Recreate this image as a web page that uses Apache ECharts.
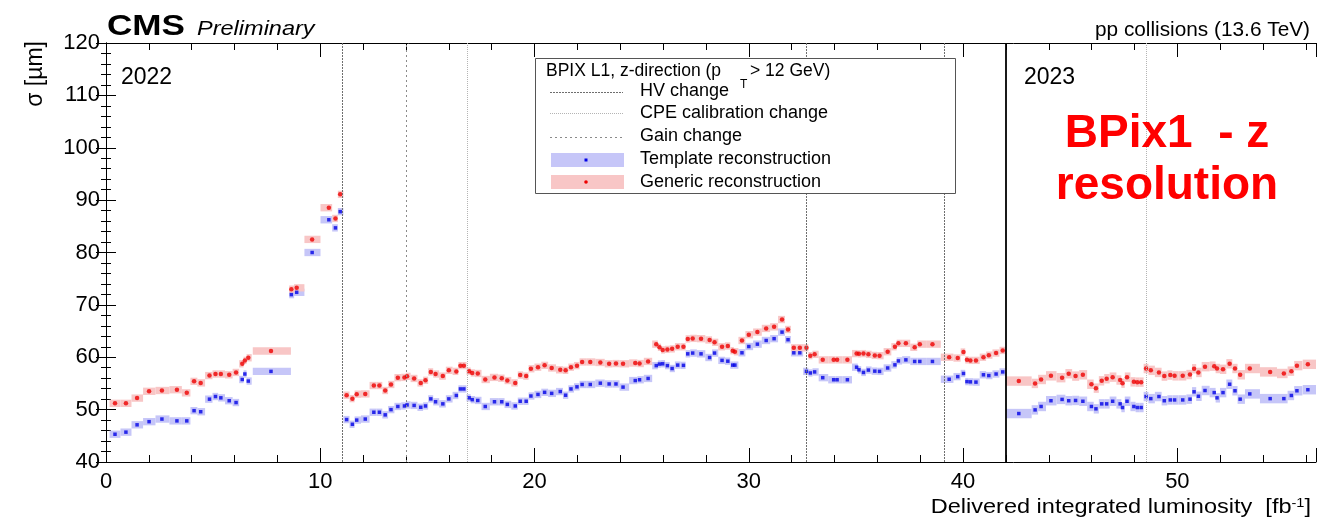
<!DOCTYPE html>
<html><head><meta charset="utf-8">
<script src="https://cdn.jsdelivr.net/npm/echarts@6/dist/echarts.min.js"></script>
<style>html,body{margin:0;padding:0;background:#fff}#c{width:1319px;height:519px}</style>
</head><body><div id="c"></div><script>
// ---- data ----
const lumi = [0.42,0.93,1.45,2.01,2.61,3.31,3.77,4.11,4.42,4.83,5.11,5.36,5.75,6.07,6.36,6.48,6.64,7.7,8.65,8.9,9.62,10.4,10.71,10.93,
11.23,11.5,11.7,12.1,12.5,12.76,13.03,13.3,13.62,13.93,14.05,14.38,14.69,14.91,15.16,15.38,15.72,16.0,16.35,16.54,16.7,16.95,17.09,17.35,17.7,18.13,18.47,18.73,19.1,19.33,19.61,19.83,20.16,20.47,20.8,21.2,21.45,21.7,21.98,
22.22,22.6,23.07,23.48,23.8,24.13,24.7,24.9,25.3,25.68,25.83,25.98,26.2,26.42,26.68,26.95,27.15,27.38,27.77,28.17,28.4,28.75,29.02,29.25,29.35,29.68,30.0,30.4,30.81,31.18,31.55,31.83,32.1,32.38,32.69,32.87,33.07,
33.45,33.96,34.12,34.6,35.03,35.14,35.35,35.58,35.88,36.1,36.48,36.82,36.98,37.33,37.74,37.98,38.57,39.35,39.75,40.02,40.18,40.34,40.6,40.95,41.2,41.54,41.85,
42.6,43.36,43.64,44.1,44.62,44.93,45.25,45.59,45.99,46.2,46.47,46.7,46.98,47.33,47.44,47.65,47.97,48.13,48.31,48.54,48.76,49.14,49.39,49.67,49.87,50.25,50.59,50.78,50.98,51.29,51.72,51.85,52.13,52.44,52.69,52.93,53.38,54.33,54.97,55.32,55.58,56.09];

const sigmaGeneric = [51.2,51.2,52.2,53.5,53.65,53.8,53.2,55.4,55.1,56.5,56.8,56.8,56.65,57.1,58.75,59.4,59.9,61.2,73.0,73.25,82.5,88.55,86.5,91.1,
52.76,52.1,52.95,53.0,54.6,54.6,53.65,54.8,56.1,56.15,56.35,55.95,55.1,55.6,57.2,56.8,56.4,57.5,57.3,58.4,58.4,57.35,57.0,56.9,55.75,56.15,56.0,55.55,55.1,56.6,56.4,57.8,58.1,58.45,57.95,57.6,57.5,58.1,58.4,
59.1,59.1,59.0,58.75,58.8,58.75,58.9,58.8,59.2,62.5,61.9,61.4,61.5,61.6,62.0,62.0,63.5,63.6,63.55,63.3,62.85,62.0,62.15,61.25,61.05,63.2,64.3,64.8,65.5,65.8,67.2,65.3,61.8,61.8,61.8,60.3,60.55,
59.5,59.5,59.5,59.5,60.7,60.65,60.7,60.55,60.35,60.3,61.05,62.0,62.65,62.65,61.9,62.5,62.5,60.0,59.85,61.0,59.5,59.4,59.4,60.0,60.4,60.8,61.3,
55.45,55.0,55.75,56.45,56.1,56.85,56.4,56.65,54.85,54.1,55.5,55.9,56.2,55.65,55.05,56.2,55.3,55.25,55.25,57.85,57.5,57.1,56.4,56.6,56.45,56.45,56.7,57.8,57.1,58.2,58.3,57.85,57.7,58.75,57.85,56.65,57.85,57.2,56.9,57.35,58.4,58.65];

const sigmaTemplate = [45.3,45.7,47.1,47.7,48.2,47.85,47.85,49.8,49.6,52.0,52.5,52.25,51.7,51.35,55.75,56.8,55.45,57.3,71.96,72.4,80.0,86.25,84.7,87.8,
48.1,47.2,48.0,48.2,49.5,49.5,49.0,50.0,50.6,50.7,50.9,50.8,50.45,50.7,52.05,51.5,51.1,52.05,52.7,53.95,53.95,52.25,51.9,51.75,50.6,51.5,51.5,51.0,50.7,51.6,51.6,52.6,52.9,53.3,53.1,53.45,52.75,53.95,54.35,
54.8,54.8,55.05,54.9,54.9,54.3,55.55,55.7,55.95,58.4,58.7,58.75,58.4,57.85,58.5,58.45,60.65,60.8,60.65,59.95,60.8,59.4,59.25,58.5,58.5,60.85,62.05,62.5,63.2,63.55,64.8,63.35,60.85,60.85,57.3,57.0,57.2,
56.1,55.7,55.7,55.7,58.1,57.6,57.1,57.55,57.35,57.3,57.95,58.55,59.3,59.5,59.2,59.2,59.2,55.8,56.3,56.9,55.35,55.3,55.25,56.65,56.5,56.8,57.2,
49.25,49.95,50.6,51.7,51.95,51.7,51.75,51.6,50.6,50.15,51.1,51.1,51.6,51.1,50.4,51.6,50.6,50.4,50.4,52.5,52.1,52.5,51.7,51.85,51.85,51.85,52.0,53.4,52.55,53.65,53.25,52.25,53.25,54.85,53.6,52.0,53.0,52.1,52.1,52.7,53.6,53.8];

// luminosity bins whose extent differs from the neighbour midpoints: [index, low, high]
const binEdgeOverrides = [[16,6.56,6.8],[17,6.85,8.63],[18,8.55,8.78],[126,41.7,42.0],[127,42.0,43.2],[128,43.2,43.5],[168,55.85,56.47]];
// uncertainty band half-heights (µm) per data-taking year
const bandHalf2022 = 0.7, bandHalf2023 = 0.9;
const yearBoundary = 42.0;
const hvChanges = [11.03, 32.68, 39.12];
const gainChanges = [14.02];
const cpeChanges = [16.85, 48.54];
const xTicks = {min: 0, max: 56.47, interval: 10};
const yTicks = {min: 40, max: 120, interval: 10};

// ---- build ----
const FONT = '"Liberation Sans", Arial, Helvetica, sans-serif';
const n = lumi.length;
const lo = [], hi = [];
for (let i = 0; i < n; i++) {
  lo.push(i === 0 ? lumi[0] - (lumi[1] - lumi[0]) / 2 : (lumi[i - 1] + lumi[i]) / 2);
  hi.push(i === n - 1 ? lumi[i] + (lumi[i] - lumi[i - 1]) / 2 : (lumi[i] + lumi[i + 1]) / 2);
}
binEdgeOverrides.forEach(([i, a, b]) => { lo[i] = a; hi[i] = b; });
const halfH = i => (lumi[i] < yearBoundary ? bandHalf2022 : bandHalf2023);
const bandData = arr => arr.map((v, i) => [lo[i], hi[i], v, halfH(i)]);
const pointData = arr => arr.map((v, i) => [lumi[i], v]);

function bandRenderer(color) {
  return function (params, api) {
    const p1 = api.coord([api.value(0), api.value(2) + api.value(3)]);
    const p2 = api.coord([api.value(1), api.value(2) - api.value(3)]);
    return {type: 'rect', shape: {x: p1[0], y: p1[1], width: p2[0] - p1[0], height: p2[1] - p1[1]},
            style: {fill: color}};
  };
}

const vline = (v, color, dash, width) => ({xAxis: v, lineStyle: {color: color, type: dash, width: width || 1}});
const markLines = []
  .concat(hvChanges.map(v => vline(v, '#6e6e6e', [2, 1])))
  .concat(gainChanges.map(v => vline(v, '#8a8a8a', [2, 3])))
  .concat(cpeChanges.map(v => vline(v, '#b4b4b4', [1, 1])))
  .concat([vline(yearBoundary, '#000', 'solid', 1.8)]);

const axisCommon = {
  type: 'value', splitLine: {show: false},
  axisLine: {lineStyle: {color: '#000', width: 1}},
  axisTick: {inside: true, lineStyle: {color: '#000'}},
  minorTick: {show: true, splitNumber: 5, lineStyle: {color: '#000'}},
};

const T = (x, y, text, font, extra) => Object.assign({type: 'text', x: x, y: y, z: 20,
  style: {text: text, font: font, fill: '#000', align: 'left', verticalAlign: 'middle', textAlign: 'left', textVerticalAlign: 'middle'}}, extra || {});

const option = {
  animation: false,
  backgroundColor: '#fff',
  grid: {left: 106, right: 3, top: 43, bottom: 57, containLabel: false},
  xAxis: [
    Object.assign({}, axisCommon, {min: xTicks.min, max: xTicks.max, interval: xTicks.interval, position: 'bottom',
      axisTick: {inside: true, length: 14, lineStyle: {color: '#000'}},
      minorTick: {show: true, splitNumber: 5, length: 7, lineStyle: {color: '#000'}},
      axisLabel: {color: '#000', fontFamily: FONT, fontSize: 22, margin: 9, showMaxLabel: false}}),
    Object.assign({}, axisCommon, {min: xTicks.min, max: xTicks.max, interval: xTicks.interval, position: 'top',
      axisTick: {inside: true, length: 14, lineStyle: {color: '#000'}},
      minorTick: {show: true, splitNumber: 5, length: 7, lineStyle: {color: '#000'}},
      axisLabel: {show: false}})
  ],
  yAxis: [
    Object.assign({}, axisCommon, {min: yTicks.min, max: yTicks.max, interval: yTicks.interval, position: 'left',
      axisTick: {inside: true, length: 10, lineStyle: {color: '#000'}},
      minorTick: {show: true, splitNumber: 5, length: 5, lineStyle: {color: '#000'}},
      axisLabel: {color: '#000', fontFamily: FONT, fontSize: 22, margin: 6}}),
    Object.assign({}, axisCommon, {min: yTicks.min, max: yTicks.max, interval: yTicks.interval, position: 'right',
      axisTick: {inside: true, length: 10, lineStyle: {color: '#000'}},
      minorTick: {show: true, splitNumber: 5, length: 5, lineStyle: {color: '#000'}},
      axisLabel: {show: false}})
  ],
  series: [
    {type: 'custom', name: 'Template band', renderItem: bandRenderer('#c6c6f8'), data: bandData(sigmaTemplate),
     encode: {x: [0, 1], y: 2}, clip: true, z: 1, silent: true,
     markLine: {silent: true, symbol: ['none', 'none'], label: {show: false}, data: markLines, animation: false}},
    {type: 'custom', name: 'Generic band', renderItem: bandRenderer('#f8c6c6'), data: bandData(sigmaGeneric),
     encode: {x: [0, 1], y: 2}, clip: true, z: 2, silent: true},
    {type: 'scatter', name: 'Template reconstruction', data: pointData(sigmaTemplate), symbol: 'rect', symbolSize: 3.5,
     itemStyle: {color: '#0000e6'}, z: 3, silent: true},
    {type: 'scatter', name: 'Generic reconstruction', data: pointData(sigmaGeneric), symbol: 'circle', symbolSize: 4.5,
     itemStyle: {color: '#ee0000'}, z: 4, silent: true}
  ],
  graphic: [
    T(107, 27, 'CMS', 'bold 30px ' + FONT, {scaleX: 1.17}),
    T(197, 29, 'Preliminary', 'italic 21px ' + FONT, {scaleX: 1.12}),
    {type: 'text', x: 1310, y: 30, scaleX: 1.04, z: 20,
     style: {text: 'pp collisions (13.6 TeV)', font: '20px ' + FONT, fill: '#000', align: 'right', verticalAlign: 'middle', textAlign: 'right', textVerticalAlign: 'middle'}},
    T(121, 78, '2022', '23px ' + FONT),
    T(1024, 78, '2023', '23px ' + FONT),
    {type: 'text', x: 1167, y: 134, z: 20,
     style: {text: 'BPix1  - z', font: 'bold 46px ' + FONT, fill: '#ff0000', align: 'center', verticalAlign: 'middle', textAlign: 'center', textVerticalAlign: 'middle'}},
    {type: 'text', x: 1167, y: 186, z: 20,
     style: {text: 'resolution', font: 'bold 46px ' + FONT, fill: '#ff0000', align: 'center', verticalAlign: 'middle', textAlign: 'center', textVerticalAlign: 'middle'}},
    {type: 'text', x: 36, y: 41, rotation: Math.PI / 2, z: 20,
     style: {text: 'σ [µm]', font: '23px ' + FONT, fill: '#000', align: 'right', verticalAlign: 'middle', textAlign: 'right', textVerticalAlign: 'middle'}},
    {type: 'text', x: 1311, y: 507, scaleX: 1.12, z: 20,
     style: {text: 'Delivered integrated luminosity  [fb{sup|-1}]', font: '21px ' + FONT, fill: '#000', align: 'right', verticalAlign: 'middle', textAlign: 'right', textVerticalAlign: 'middle',
       rich: {sup: {fontSize: 13, fontFamily: FONT, verticalAlign: 'top', fill: '#000'}}}},
    // legend box
    {type: 'rect', z: 30, shape: {x: 535.5, y: 58.5, width: 420, height: 135}, style: {fill: '#fff', stroke: '#555', lineWidth: 1}},
    T(546, 71, 'BPIX L1, z-direction (p', '17.5px ' + FONT, {z: 31}),
    T(740, 85, 'T', '12px ' + FONT, {z: 31}),
    T(750, 71, '> 12 GeV)', '17.5px ' + FONT, {z: 31}),
    {type: 'line', z: 31, shape: {x1: 550, y1: 92.5, x2: 623, y2: 92.5}, style: {stroke: '#6e6e6e', lineWidth: 1, lineDash: [2, 1]}},
    {type: 'line', z: 31, shape: {x1: 550, y1: 113.5, x2: 623, y2: 113.5}, style: {stroke: '#b4b4b4', lineWidth: 1, lineDash: [1, 1]}},
    {type: 'line', z: 31, shape: {x1: 550, y1: 137.5, x2: 623, y2: 137.5}, style: {stroke: '#8a8a8a', lineWidth: 1, lineDash: [2, 3]}},
    {type: 'rect', z: 31, shape: {x: 551, y: 153, width: 73, height: 14}, style: {fill: '#c6c6f8'}},
    {type: 'rect', z: 32, shape: {x: 584.5, y: 158.5, width: 3, height: 3}, style: {fill: '#0000e6'}},
    {type: 'rect', z: 31, shape: {x: 551, y: 175, width: 73, height: 14}, style: {fill: '#f8c6c6'}},
    {type: 'circle', z: 32, shape: {cx: 586, cy: 182, r: 1.8}, style: {fill: '#ee0000'}},
    T(640, 91, 'HV change', '18px ' + FONT, {z: 31}),
    T(640, 113, 'CPE calibration change', '18px ' + FONT, {z: 31}),
    T(640, 136, 'Gain change', '18px ' + FONT, {z: 31}),
    T(640, 159, 'Template reconstruction', '18px ' + FONT, {z: 31}),
    T(640, 182, 'Generic reconstruction', '18px ' + FONT, {z: 31})
  ]
};

const chart = echarts.init(document.getElementById('c'), null, {renderer: 'canvas'});
chart.setOption(option);
</script></body></html>
